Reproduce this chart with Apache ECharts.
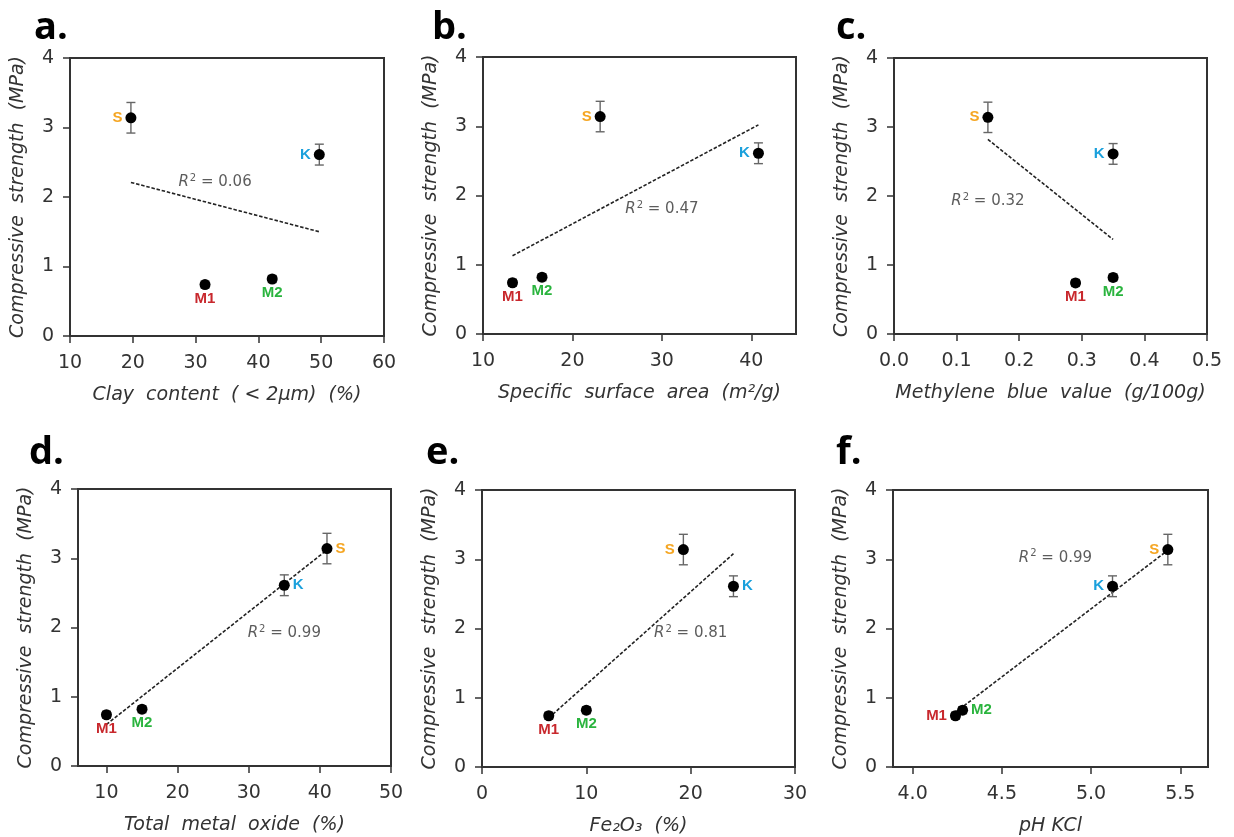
<!DOCTYPE html>
<html>
<head>
<meta charset="utf-8">
<script src="https://cdn.jsdelivr.net/npm/echarts@6/dist/echarts.min.js"></script>
<style>
html,body{margin:0;padding:0;background:#fff;}
#chart{width:1234px;height:837px;}
</style>
</head>
<body>
<div id="chart"></div>
<script>
// ---- data ----
const samples = ['S', 'K', 'M1', 'M2'];
const strength = [3.14, 2.61, 0.74, 0.82];
const strengthErr = [0.22, 0.15, 0.05, 0.05];

const clayContent = [19.7, 49.7, 31.5, 42.2];
const specificSurface = [23.1, 40.8, 13.3, 16.6];
const methyleneBlue = [0.15, 0.35, 0.29, 0.35];
const totalMetalOxide = [41.0, 35.0, 10.0, 15.0];
const fe2o3 = [19.3, 24.1, 6.4, 10.0];
const phKcl = [5.43, 5.12, 4.24, 4.28];

const trendA = [[19.7, 2.21], [49.7, 1.50]];
const trendB = [[13.3, 1.13], [40.8, 3.02]];
const trendC = [[0.15, 2.82], [0.35, 1.37]];
const trendD = [[10.0, 0.60], [41.0, 3.12]];
const trendE = [[6.4, 0.71], [24.1, 3.08]];
const trendF = [[4.24, 0.79], [5.43, 3.13]];

const r2Values = ['0.06', '0.47', '0.32', '0.99', '0.81', '0.99'];
const r2Anchor = [[33.1, 2.21], [30.0, 1.80], [0.15, 1.92], [35.0, 1.92], [20.0, 1.93], [4.80, 3.02]];

const yTicks = [0, 1, 2, 3, 4];
const xTicksA = [10, 20, 30, 40, 50, 60];
const xTicksB = [10, 20, 30, 40];
const xTicksC = [0.0, 0.1, 0.2, 0.3, 0.4, 0.5];
const xTicksD = [10, 20, 30, 40, 50];
const xTicksE = [0, 10, 20, 30];
const xTicksF = [4.0, 4.5, 5.0, 5.5];

const panelLetters = ['a.', 'b.', 'c.', 'd.', 'e.', 'f.'];
const xNames = [
  'Clay  content  ( < 2\u03BCm)  (%)',
  'Specific  surface  area  (m\u00B2/g)',
  'Methylene  blue  value  (g/100g)',
  'Total  metal  oxide  (%)',
  'Fe\u2082O\u2083  (%)',
  'pH KCl'
];
const yName = 'Compressive  strength  (MPa)';

// ---- styling / layout ----
const sampleColors = {S: '#F5A623', K: '#1AA0DC', M1: '#C8282D', M2: '#2AB43E'};
const FONT = 'DejaVu Sans';
const AXC = '#333';

const panels = [
  {x: clayContent, trend: trendA, ticks: xTicksA, min: 10, max: 60, dec: 0,
   grid: {left: 70, top: 58, width: 314, height: 278},
   place: ['left', 'left', 'bottom', 'bottom'], letter: [34, 9]},
  {x: specificSurface, trend: trendB, ticks: xTicksB, min: 10, max: 45, dec: 0,
   grid: {left: 483, top: 57, width: 313, height: 277},
   place: ['left', 'left', 'bottom', 'bottom'], letter: [432, 9]},
  {x: methyleneBlue, trend: trendC, ticks: xTicksC, min: 0, max: 0.5, dec: 1,
   grid: {left: 894, top: 58, width: 313, height: 276},
   place: ['left', 'left', 'bottom', 'bottom'], letter: [836, 9]},
  {x: totalMetalOxide, trend: trendD, ticks: xTicksD, min: 6, max: 50, dec: 0,
   grid: {left: 78, top: 489, width: 313, height: 277},
   place: ['right', 'right', 'bottom', 'bottom'], letter: [29, 434]},
  {x: fe2o3, trend: trendE, ticks: xTicksE, min: 0, max: 30, dec: 0,
   grid: {left: 482, top: 490, width: 313, height: 277},
   place: ['left', 'right', 'bottom', 'bottom'], letter: [426, 434]},
  {x: phKcl, trend: trendF, ticks: xTicksF, min: 3.89, max: 5.655, dec: 1,
   grid: {left: 893, top: 490, width: 315, height: 277},
   place: ['left', 'left', 'left', 'right'], letter: [836, 434]}
];

const grids = [], xAxes = [], yAxes = [], series = [], graphics = [];

panels.forEach((p, i) => {
  grids.push(Object.assign({show: true, borderColor: AXC, borderWidth: 2, backgroundColor: 'transparent'}, p.grid));
  xAxes.push({
    type: 'value', gridIndex: i, min: p.min, max: p.max,
    splitLine: {show: false},
    axisLine: {show: true, onZero: false, lineStyle: {color: AXC, width: 2}},
    axisTick: {show: true, length: 7, lineStyle: {color: AXC, width: 1.5}, customValues: p.ticks},
    axisLabel: {color: '#333', fontFamily: FONT, fontSize: 19, margin: 18, customValues: p.ticks,
      formatter: v => v.toFixed(p.dec)},
    name: xNames[i], nameLocation: 'middle', nameGap: 50,
    nameTextStyle: {color: '#333', fontFamily: FONT, fontSize: 19, fontStyle: 'italic'}
  });
  yAxes.push({
    type: 'value', gridIndex: i, min: 0, max: 4, interval: 1,
    splitLine: {show: false},
    axisLine: {show: true, onZero: false, lineStyle: {color: AXC, width: 2}},
    axisTick: {show: true, length: 7, lineStyle: {color: AXC, width: 1.5}},
    axisLabel: {color: '#333', fontFamily: FONT, fontSize: 19, margin: 16},
    name: yName, nameLocation: 'middle', nameGap: 42, nameRotate: 90,
    nameTextStyle: {color: '#333', fontFamily: FONT, fontSize: 19, fontStyle: 'italic'}
  });

  // trend line
  series.push({
    type: 'line', xAxisIndex: i, yAxisIndex: i, data: p.trend, symbol: 'none', silent: true,
    lineStyle: {color: '#222', width: 1.6, type: [3.5, 1.8]}, z: 2
  });

  // error bars
  series.push({
    type: 'custom', xAxisIndex: i, yAxisIndex: i, z: 3,
    data: p.x.map((xv, k) => [xv, strength[k], strengthErr[k]]),
    renderItem: (params, api) => {
      const xv = api.value(0), yv = api.value(1), e = api.value(2);
      const t = api.coord([xv, yv + e]), b = api.coord([xv, yv - e]);
      const hw = 4.5;
      const st = {stroke: '#666', lineWidth: 1.4};
      return {type: 'group', children: [
        {type: 'line', shape: {x1: t[0], y1: t[1], x2: b[0], y2: b[1]}, style: st},
        {type: 'line', shape: {x1: t[0] - hw, y1: t[1], x2: t[0] + hw, y2: t[1]}, style: st},
        {type: 'line', shape: {x1: b[0] - hw, y1: b[1], x2: b[0] + hw, y2: b[1]}, style: st}
      ]};
    }
  });

  // points with sample labels
  series.push({
    type: 'scatter', xAxisIndex: i, yAxisIndex: i, symbolSize: 11, z: 4,
    itemStyle: {color: '#000', opacity: 1},
    data: p.x.map((xv, k) => ({
      value: [xv, strength[k]],
      label: {
        show: true, formatter: samples[k], position: p.place[k], distance: p.place[k] === 'bottom' ? 1 : 3,
        color: sampleColors[samples[k]], fontFamily: 'Liberation Sans', fontWeight: 'bold', fontSize: 15
      }
    }))
  });

  // R² annotation
  series.push({
    type: 'scatter', xAxisIndex: i, yAxisIndex: i, symbolSize: 0, silent: true, z: 5,
    data: [r2Anchor[i]],
    label: {
      show: true, position: 'inside', formatter: '{it|R}{sup|2}{n| = ' + r2Values[i] + '}',
      rich: {
        it: {fontFamily: FONT, fontStyle: 'italic', fontSize: 15, color: '#333'},
        sup: {fontFamily: FONT, fontSize: 10, color: '#333', verticalAlign: 'top', padding: [0, 0, 8, 1]},
        n: {fontFamily: FONT, fontSize: 15, color: '#333'}
      }
    }
  });

  graphics.push({
    type: 'text', x: p.letter[0], y: p.letter[1],
    style: {text: panelLetters[i], font: 'bold 38px "Open Sans"', fill: '#000'}
  });
});

const chart = echarts.init(document.getElementById('chart'), null, {renderer: 'canvas'});
chart.setOption({
  animation: false,
  backgroundColor: '#fff',
  grid: grids, xAxis: xAxes, yAxis: yAxes, series: series, graphic: graphics
});
</script>
</body>
</html>
